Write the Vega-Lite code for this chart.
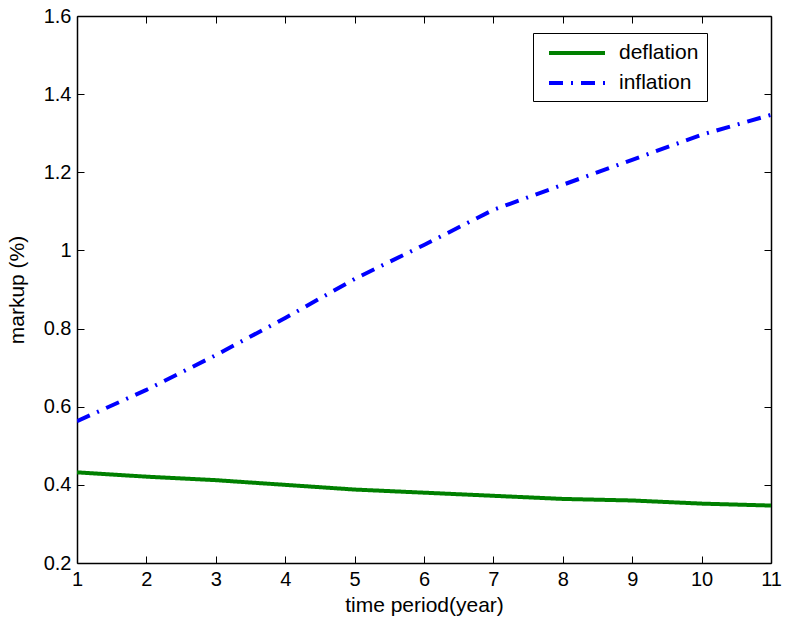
{
  "$schema": "https://vega.github.io/schema/vega-lite/v6.json",
  "width": 694,
  "height": 547,
  "autosize": "none",
  "padding": {"left": 77, "top": 16, "right": 14, "bottom": 61},
  "background": "white",
  "config": {
    "font": "Liberation Sans",
    "view": {"stroke": null},
    "axis": {
      "grid": false,
      "domainColor": "black",
      "domainWidth": 1.5,
      "tickColor": "black",
      "tickWidth": 1,
      "tickSize": -7,
      "labelColor": "black",
      "labelFontSize": 20,
      "labelFont": "Liberation Sans",
      "titleFont": "Liberation Sans",
      "titleFontSize": 21,
      "titleFontWeight": "normal",
      "titleColor": "black"
    }
  },
  "data": {
    "values": [
      {"year": 1, "series": "deflation", "markup": 0.432},
      {"year": 2, "series": "deflation", "markup": 0.421},
      {"year": 3, "series": "deflation", "markup": 0.412},
      {"year": 4, "series": "deflation", "markup": 0.400},
      {"year": 5, "series": "deflation", "markup": 0.388},
      {"year": 6, "series": "deflation", "markup": 0.380},
      {"year": 7, "series": "deflation", "markup": 0.372},
      {"year": 8, "series": "deflation", "markup": 0.364},
      {"year": 9, "series": "deflation", "markup": 0.360},
      {"year": 10, "series": "deflation", "markup": 0.352},
      {"year": 11, "series": "deflation", "markup": 0.347},
      {"year": 1, "series": "inflation", "markup": 0.563},
      {"year": 2, "series": "inflation", "markup": 0.643},
      {"year": 3, "series": "inflation", "markup": 0.732},
      {"year": 4, "series": "inflation", "markup": 0.827},
      {"year": 5, "series": "inflation", "markup": 0.927},
      {"year": 6, "series": "inflation", "markup": 1.014},
      {"year": 7, "series": "inflation", "markup": 1.104},
      {"year": 8, "series": "inflation", "markup": 1.168},
      {"year": 9, "series": "inflation", "markup": 1.232},
      {"year": 10, "series": "inflation", "markup": 1.296},
      {"year": 11, "series": "inflation", "markup": 1.347}
    ]
  },
  "layer": [
    {
      "mark": {"type": "line", "strokeWidth": 4, "strokeCap": "butt", "clip": true},
      "encoding": {
        "x": {
          "field": "year", "type": "quantitative",
          "scale": {"domain": [1, 11], "nice": false, "zero": false},
          "axis": {"values": [1,2,3,4,5,6,7,8,9,10,11], "title": "time period(year)", "labelPadding": 13, "titlePadding": 5, "labelFlush": false}
        },
        "y": {
          "field": "markup", "type": "quantitative",
          "scale": {"domain": [0.2, 1.6], "nice": false, "zero": false},
          "axis": {"values": [0.2,0.4,0.6,0.8,1,1.2,1.4,1.6], "format": "~g", "title": "markup (%)", "labelPadding": 13, "titlePadding": 16, "labelFlush": false}
        },
        "color": {
          "field": "series", "type": "nominal",
          "scale": {"domain": ["deflation", "inflation"], "range": ["#008000", "#0000ff"]},
          "legend": {
            "title": null,
            "orient": "none",
            "legendX": 456,
            "legendY": 17,
            "strokeColor": "black",
            "fillColor": "white",
            "padding": 8,
            "symbolType": "M-0.4,0H5.2",
            "symbolSize": 400,
            "symbolStrokeWidth": 4,
            "labelFontSize": 21,
            "labelColor": "black",
            "labelOffset": 54,
            "rowPadding": 8
          }
        },
        "strokeDash": {
          "field": "series", "type": "nominal",
          "scale": {"domain": ["deflation", "inflation"], "range": [[1, 0], [14, 8, 2, 8]]},
          "legend": {
            "title": null,
            "orient": "none",
            "legendX": 456,
            "legendY": 17,
            "strokeColor": "black",
            "fillColor": "white",
            "padding": 8,
            "symbolType": "M-0.4,0H5.2",
            "symbolSize": 400,
            "symbolStrokeWidth": 4,
            "labelFontSize": 21,
            "labelColor": "black",
            "labelOffset": 54,
            "rowPadding": 8
          }
        }
      }
    },
    {
      "mark": {"type": "line", "opacity": 0},
      "encoding": {
        "x": {
          "field": "year", "type": "quantitative",
          "axis": {"orient": "top", "values": [1,2,3,4,5,6,7,8,9,10,11], "labels": false, "title": null}
        },
        "y": {
          "field": "markup", "type": "quantitative",
          "axis": {"orient": "right", "values": [0.2,0.4,0.6,0.8,1,1.2,1.4,1.6], "labels": false, "title": null}
        },
        "detail": {"field": "series"}
      }
    }
  ],
  "resolve": {"axis": {"x": "independent", "y": "independent"}}
}
